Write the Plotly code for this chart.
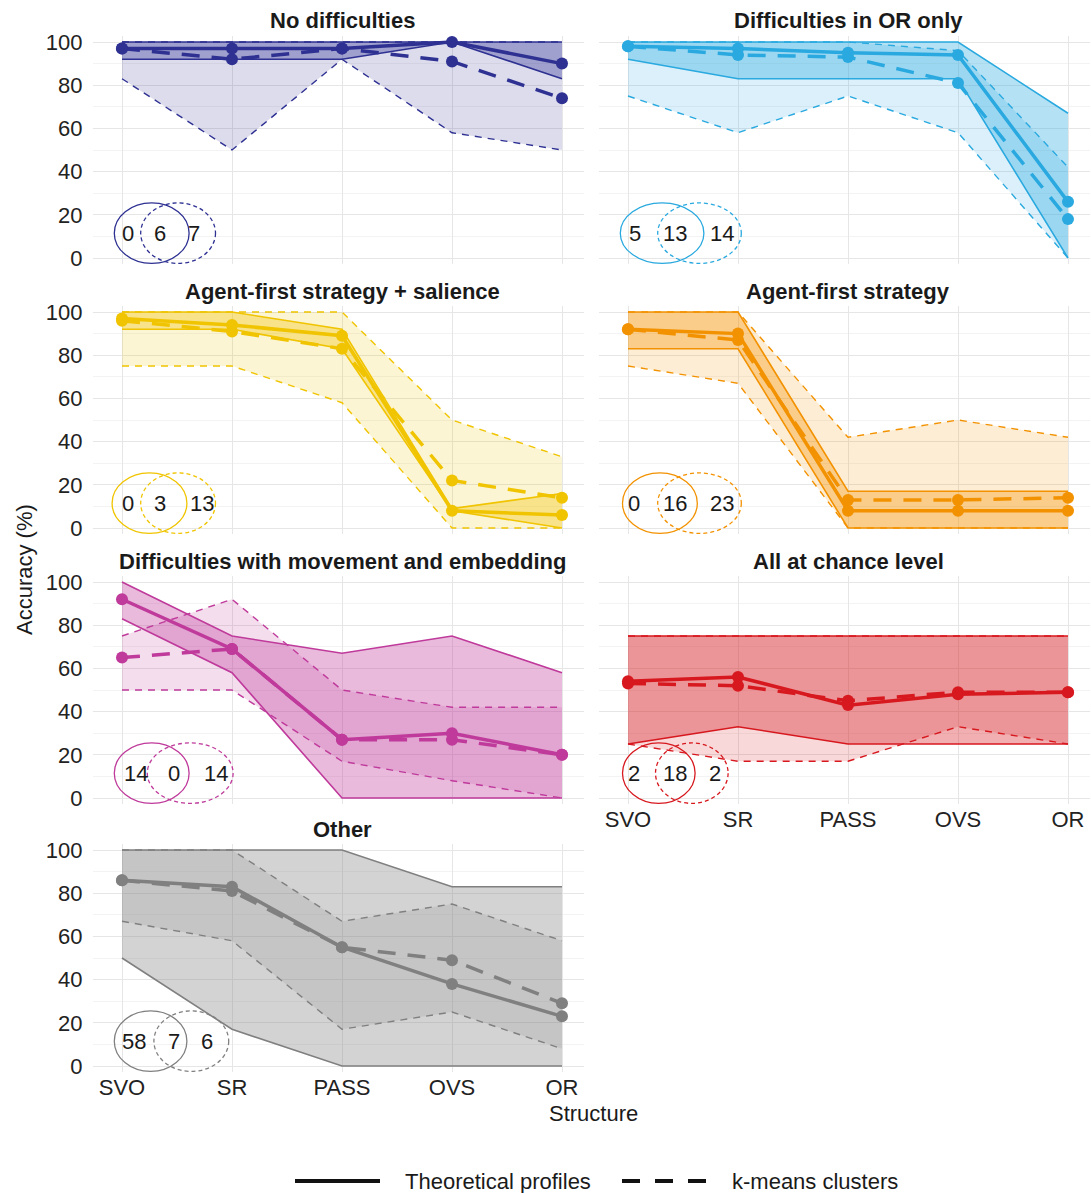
import plotly.graph_objects as go

# ---------------------------------------------------------------- data
structures = ["SVO", "SR", "PASS", "OVS", "OR"]

profile_names = [
    "No difficulties",
    "Difficulties in OR only",
    "Agent-first strategy + salience",
    "Agent-first strategy",
    "Difficulties with movement and embedding",
    "All at chance level",
    "Other",
]
profile_colors = ["#2E3192", "#29A9DF", "#F0C400", "#F39200",
                  "#BF3A9B", "#D7191F", "#808080"]

# theoretical profiles: mean, minimum, maximum accuracy per structure
theory_mean = [
    [97, 97, 97, 100, 90],
    [98, 97, 95, 94, 26],
    [97, 94, 89, 8, 6],
    [92, 90, 8, 8, 8],
    [92, 69, 27, 30, 20],
    [54, 56, 43, 48, 49],
    [86, 83, 55, 38, 23],
]
theory_min = [
    [92, 92, 92, 100, 83],
    [92, 83, 83, 83, 0],
    [92, 92, 83, 8, 0],
    [83, 83, 0, 0, 0],
    [83, 58, 0, 0, 0],
    [25, 33, 25, 25, 25],
    [50, 17, 0, 0, 0],
]
theory_max = [
    [100, 100, 100, 100, 100],
    [100, 100, 100, 100, 67],
    [100, 100, 92, 9, 16],
    [100, 100, 17, 17, 17],
    [100, 75, 67, 75, 58],
    [75, 75, 75, 75, 75],
    [100, 100, 100, 83, 83],
]

# k-means clusters: mean, minimum, maximum accuracy per structure
kmeans_mean = [
    [97, 92, 97, 91, 74],
    [98, 94, 93, 81, 18],
    [96, 91, 83, 22, 14],
    [92, 87, 13, 13, 14],
    [65, 69, 27, 27, 20],
    [53, 52, 45, 49, 49],
    [86, 81, 55, 49, 29],
]
kmeans_min = [
    [83, 50, 92, 58, 50],
    [75, 58, 75, 58, 0],
    [75, 75, 58, 0, 0],
    [75, 67, 0, 0, 0],
    [50, 50, 17, 8, 0],
    [25, 17, 17, 33, 25],
    [67, 58, 17, 25, 8],
]
kmeans_max = [
    [100, 100, 100, 100, 100],
    [100, 100, 100, 96, 42],
    [100, 100, 100, 50, 33],
    [100, 100, 42, 50, 42],
    [75, 92, 50, 42, 42],
    [75, 75, 75, 75, 75],
    [100, 100, 67, 75, 58],
]

# participant counts: theoretical profile only / both / k-means cluster only
count_theory_only = [0, 5, 0, 0, 14, 2, 58]
count_both = [6, 13, 3, 16, 0, 18, 7]
count_kmeans_only = [7, 14, 13, 23, 14, 2, 6]

# ---------------------------------------------------------------- layout
W, H = 1091, 1193
FONT = "Liberation Sans, Arial, sans-serif"
ROW_TOP = [42, 312, 582, 850]        # pixel row of y = 100 in each panel row
Y_PX = 2.16                          # pixels per accuracy point
Y_RANGE = [-3, 103]
X_RANGE = [-0.26, 4.2]
X_PX = 110                           # pixels per structure step
COL_LEFT = [93.4, 599.4]
PANEL_POS = [(0, 0), (0, 1), (1, 0), (1, 1), (2, 0), (2, 1), (3, 0)]
BOTTOM_PANELS = {5, 6}

# Venn placement (structure units relative to SVO):
# solid centre, solid radius, dashed centre, dashed radius, three label x's
VENN_GEOM = [
    (0.27, 0.34, 0.51, 0.34, 0.055, 0.345, 0.65),
    (0.31, 0.38, 0.65, 0.38, 0.06, 0.43, 0.85),
    (0.25, 0.34, 0.51, 0.34, 0.055, 0.345, 0.73),
    (0.29, 0.34, 0.65, 0.38, 0.05, 0.43, 0.85),
    (0.27, 0.34, 0.62, 0.39, 0.13, 0.47, 0.85),
    (0.28, 0.33, 0.58, 0.33, 0.05, 0.43, 0.79),
    (0.26, 0.33, 0.63, 0.34, 0.11, 0.47, 0.77),
]
VENN_Y, VENN_RY = 11.5, 14


def rgba(hex_color, alpha):
    h = hex_color.lstrip("#")
    r, g, b = int(h[0:2], 16), int(h[2:4], 16), int(h[4:6], 16)
    return f"rgba({r},{g},{b},{alpha})"


def fx(px):
    return px / W


def fy(px):
    return 1 - px / H


fig = go.Figure()
shapes = []
annotations = []
layout_axes = {}

for i, name in enumerate(profile_names):
    row, col = PANEL_POS[i]
    n = "" if i == 0 else str(i + 1)
    xa, ya = "x" + n, "y" + n
    color = profile_colors[i]

    top = ROW_TOP[row]
    x0 = COL_LEFT[col]
    x1 = x0 + (X_RANGE[1] - X_RANGE[0]) * X_PX
    y_top_px = top - (Y_RANGE[1] - 100) * Y_PX
    y_bot_px = top + (100 - Y_RANGE[0]) * Y_PX

    layout_axes["xaxis" + n] = dict(
        domain=[fx(x0), fx(x1)], anchor=ya, type="category",
        categoryorder="array", categoryarray=structures,
        range=X_RANGE, showgrid=True, gridcolor="#E6E6E6", gridwidth=1,
        zeroline=False, showline=False, ticks="",
        showticklabels=i in BOTTOM_PANELS,
        tickfont=dict(family=FONT, size=22, color="#222222"),
        automargin=False, fixedrange=True,
    )
    layout_axes["yaxis" + n] = dict(
        domain=[fy(y_bot_px), fy(y_top_px)], anchor=xa,
        range=Y_RANGE, tickvals=[0, 20, 40, 60, 80, 100],
        showgrid=True, gridcolor="#E6E6E6", gridwidth=1,
        minor=dict(dtick=10, tick0=0, showgrid=True,
                   gridcolor="#F3F3F3", gridwidth=1),
        zeroline=False, showline=False, ticks="",
        showticklabels=(col == 0), ticklabelstandoff=10,
        tickfont=dict(family=FONT, size=22, color="#222222"),
        automargin=False, fixedrange=True,
    )

    loop_x = structures + structures[::-1]

    # k-means range ribbon (lighter) and theoretical range ribbon (darker)
    fig.add_trace(go.Scatter(
        x=loop_x, y=kmeans_max[i] + kmeans_min[i][::-1], xaxis=xa, yaxis=ya,
        mode="none", fill="toself", fillcolor=rgba(color, 0.17),
        hoverinfo="skip", showlegend=False))
    fig.add_trace(go.Scatter(
        x=loop_x, y=theory_max[i] + theory_min[i][::-1], xaxis=xa, yaxis=ya,
        mode="none", fill="toself", fillcolor=rgba(color, 0.35),
        hoverinfo="skip", showlegend=False))

    # range boundaries
    for bound in (kmeans_min[i], kmeans_max[i]):
        fig.add_trace(go.Scatter(
            x=structures, y=bound, xaxis=xa, yaxis=ya, mode="lines",
            line=dict(color=color, width=1.4, dash="7px,6px"),
            hoverinfo="skip", showlegend=False))
    for bound in (theory_min[i], theory_max[i]):
        fig.add_trace(go.Scatter(
            x=structures, y=bound, xaxis=xa, yaxis=ya, mode="lines",
            line=dict(color=color, width=1.6),
            hoverinfo="skip", showlegend=False))

    # mean profiles
    fig.add_trace(go.Scatter(
        x=structures, y=kmeans_mean[i], xaxis=xa, yaxis=ya,
        mode="lines+markers",
        line=dict(color=color, width=3.5, dash="18px,12px"),
        marker=dict(color=color, size=12),
        name="k-means clusters", showlegend=False))
    fig.add_trace(go.Scatter(
        x=structures, y=theory_mean[i], xaxis=xa, yaxis=ya,
        mode="lines+markers",
        line=dict(color=color, width=3.5),
        marker=dict(color=color, size=12),
        name="Theoretical profiles", showlegend=False))

    # panel title
    annotations.append(dict(
        text=f"<b>{name}</b>", xref="paper", yref="paper",
        x=fx(122 + COL_LEFT[col] - COL_LEFT[0] + 220), y=fy(top - 21),
        xanchor="center", yanchor="middle", showarrow=False,
        font=dict(family=FONT, size=22, color="#1A1A1A")))

    # Venn diagram of group membership
    scx, srx, dcx, drx, t0, t1, t2 = VENN_GEOM[i]
    shapes.append(dict(
        type="circle", xref=xa, yref=ya, layer="above",
        x0=scx - srx, x1=scx + srx, y0=VENN_Y - VENN_RY, y1=VENN_Y + VENN_RY,
        line=dict(color=color, width=1.3)))
    shapes.append(dict(
        type="circle", xref=xa, yref=ya, layer="above",
        x0=dcx - drx, x1=dcx + drx, y0=VENN_Y - VENN_RY, y1=VENN_Y + VENN_RY,
        line=dict(color=color, width=1.3, dash="4px,3px")))
    for tx, val in zip((t0, t1, t2),
                       (count_theory_only[i], count_both[i], count_kmeans_only[i])):
        annotations.append(dict(
            text=str(val), xref=xa, yref=ya, x=tx, y=VENN_Y,
            xanchor="center", yanchor="middle", showarrow=False,
            font=dict(family=FONT, size=22, color="#1A1A1A")))

# axis titles
annotations.append(dict(
    text="Accuracy (%)", xref="paper", yref="paper", x=fx(25), y=fy(570),
    textangle=-90, xanchor="center", yanchor="middle", showarrow=False,
    font=dict(family=FONT, size=22, color="#1A1A1A")))
annotations.append(dict(
    text="Structure", xref="paper", yref="paper", x=fx(594), y=fy(1113),
    xanchor="center", yanchor="middle", showarrow=False,
    font=dict(family=FONT, size=22, color="#1A1A1A")))

# legend keys
LEG_Y = 1181
shapes.append(dict(type="line", xref="paper", yref="paper",
                   x0=fx(295), x1=fx(380), y0=fy(LEG_Y), y1=fy(LEG_Y),
                   line=dict(color="#111111", width=4)))
shapes.append(dict(type="line", xref="paper", yref="paper",
                   x0=fx(622), x1=fx(708), y0=fy(LEG_Y), y1=fy(LEG_Y),
                   line=dict(color="#111111", width=4, dash="18px,15px")))
annotations.append(dict(
    text="Theoretical profiles", xref="paper", yref="paper",
    x=fx(403), y=fy(LEG_Y), xanchor="left", yanchor="middle",
    showarrow=False, font=dict(family=FONT, size=22, color="#1A1A1A")))
annotations.append(dict(
    text="k-means clusters", xref="paper", yref="paper",
    x=fx(730), y=fy(LEG_Y), xanchor="left", yanchor="middle",
    showarrow=False, font=dict(family=FONT, size=22, color="#1A1A1A")))

fig.update_layout(
    width=W, height=H, autosize=False,
    margin=dict(l=0, r=0, t=0, b=0),
    paper_bgcolor="white", plot_bgcolor="white",
    showlegend=False,
    shapes=shapes, annotations=annotations,
    font=dict(family=FONT, size=22, color="#1A1A1A"),
    **layout_axes,
)

fig.write_html("out.html")
